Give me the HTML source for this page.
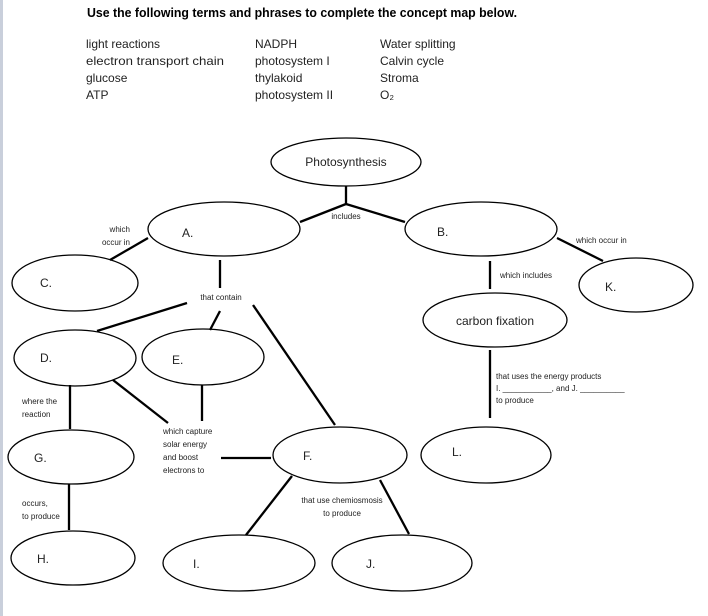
<!DOCTYPE html>
<html><head><meta charset="utf-8"><style>
html,body{margin:0;padding:0;background:#fff;}
svg{display:block;font-family:"Liberation Sans",sans-serif;}
</style></head><body>
<svg width="708" height="616" viewBox="0 0 708 616" xmlns="http://www.w3.org/2000/svg">
<rect x="0" y="0" width="3" height="616" fill="#c9cfdb"/>
<text x="87" y="17" font-size="13" font-weight="bold" textLength="430" lengthAdjust="spacingAndGlyphs">Use the following terms and phrases to complete the concept map below.</text>
<g font-size="12" fill="#222">
<text x="86" y="48">light reactions</text>
<text x="86" y="65" textLength="138" lengthAdjust="spacingAndGlyphs">electron transport chain</text>
<text x="86" y="82">glucose</text>
<text x="86" y="99">ATP</text>
<text x="255" y="48">NADPH</text>
<text x="255" y="65">photosystem I</text>
<text x="255" y="82">thylakoid</text>
<text x="255" y="99">photosystem II</text>
<text x="380" y="48">Water splitting</text>
<text x="380" y="65">Calvin cycle</text>
<text x="380" y="82">Stroma</text>
<text x="380" y="99">O₂</text>
</g>
<g fill="none" stroke="#000" stroke-width="1.3">
<ellipse cx="346" cy="162" rx="75" ry="24"/>
<ellipse cx="224" cy="229" rx="76" ry="27"/>
<ellipse cx="481" cy="229" rx="76" ry="27"/>
<ellipse cx="75" cy="283" rx="63" ry="28"/>
<ellipse cx="636" cy="285" rx="57" ry="27"/>
<ellipse cx="495" cy="320" rx="72" ry="27"/>
<ellipse cx="75" cy="358" rx="61" ry="28"/>
<ellipse cx="203" cy="357" rx="61" ry="28"/>
<ellipse cx="71" cy="457" rx="63" ry="27"/>
<ellipse cx="340" cy="455" rx="67" ry="28"/>
<ellipse cx="486" cy="455" rx="65" ry="28"/>
<ellipse cx="73" cy="558" rx="62" ry="27"/>
<ellipse cx="239" cy="563" rx="76" ry="28"/>
<ellipse cx="402" cy="563" rx="70" ry="28"/>
</g>
<g stroke="#000" stroke-width="2.3" fill="none">
<line x1="346" y1="186" x2="346" y2="204"/>
<line x1="346" y1="204" x2="300" y2="222"/>
<line x1="346" y1="204" x2="405" y2="222"/>
<line x1="148" y1="238" x2="110" y2="260"/>
<line x1="220" y1="260" x2="220" y2="288"/>
<line x1="187" y1="303" x2="97" y2="331"/>
<line x1="220" y1="311" x2="210" y2="330"/>
<line x1="253" y1="305" x2="335" y2="425"/>
<line x1="557" y1="238" x2="603" y2="261"/>
<line x1="490" y1="261" x2="490" y2="289"/>
<line x1="490" y1="350" x2="490" y2="418"/>
<line x1="70" y1="385" x2="70" y2="429"/>
<line x1="113" y1="380" x2="168" y2="423"/>
<line x1="202" y1="385" x2="202" y2="421"/>
<line x1="221" y1="458" x2="271" y2="458"/>
<line x1="69" y1="484" x2="69" y2="530"/>
<line x1="292" y1="476" x2="246" y2="535"/>
<line x1="380" y1="480" x2="409" y2="534"/>
</g>
<g font-size="12" fill="#222">
<text x="346" y="166" text-anchor="middle">Photosynthesis</text>
<text x="182" y="237">A.</text>
<text x="437" y="236">B.</text>
<text x="40" y="287">C.</text>
<text x="605" y="291">K.</text>
<text x="495" y="325" text-anchor="middle">carbon fixation</text>
<text x="40" y="362">D.</text>
<text x="172" y="364">E.</text>
<text x="34" y="462">G.</text>
<text x="303" y="460">F.</text>
<text x="452" y="456">L.</text>
<text x="37" y="563">H.</text>
<text x="193" y="568">I.</text>
<text x="366" y="568">J.</text>
</g>
<g font-size="8" fill="#222">
<text x="346" y="219" text-anchor="middle">includes</text>
<text x="130" y="232" text-anchor="end">which</text>
<text x="130" y="245" text-anchor="end">occur in</text>
<text x="221" y="300" text-anchor="middle">that contain</text>
<text x="576" y="243">which occur in</text>
<text x="500" y="278">which includes</text>
<text x="496" y="379">that uses the energy products</text>
<text x="496" y="391">I. ___________, and J. __________</text>
<text x="496" y="403">to produce</text>
<text x="22" y="404">where the</text>
<text x="22" y="417">reaction</text>
<text x="163" y="434">which capture</text>
<text x="163" y="447">solar energy</text>
<text x="163" y="460">and boost</text>
<text x="163" y="473">electrons to</text>
<text x="22" y="506">occurs,</text>
<text x="22" y="519">to produce</text>
<text x="342" y="503" text-anchor="middle">that use chemiosmosis</text>
<text x="342" y="516" text-anchor="middle">to produce</text>
</g>
</svg>
</body></html>
